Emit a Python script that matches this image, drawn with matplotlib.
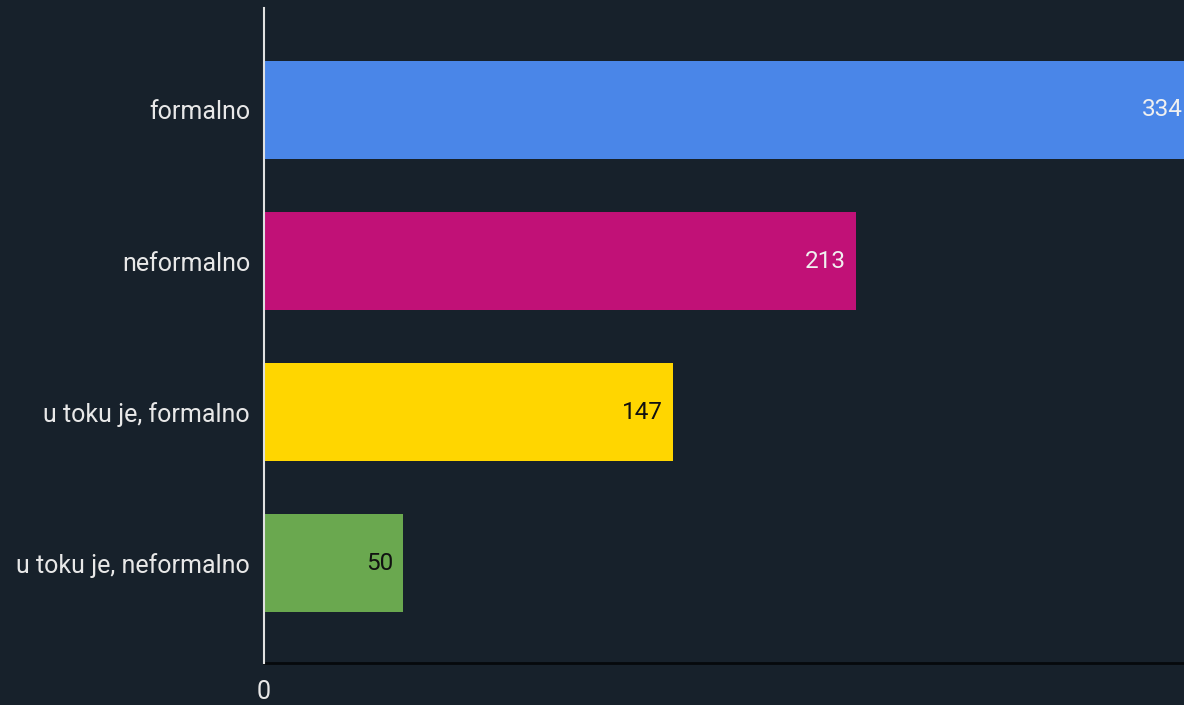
import matplotlib.pyplot as plt

categories = ['formalno', 'neformalno', 'u toku je, formalno', 'u toku je, neformalno']
values = [334, 213, 147, 50]
bar_colors = ['#4a86e8', '#c11177', '#ffd600', '#6aa84f']
value_text_colors = ['#f0f0f0', '#f0f0f0', '#111111', '#111111']

BG = '#17212b'

plt.rcParams['font.family'] = ['Roboto', 'DejaVu Sans']

fig = plt.figure(figsize=(11.84, 7.05), dpi=100, facecolor=BG)
ax = fig.add_axes([264 / 1184, 1 - 663 / 705, (1184 - 264) / 1184, (663 - 8) / 705])
ax.set_facecolor(BG)

y = list(range(len(categories)))
ax.barh(y, values, height=0.65, color=bar_colors, zorder=2)

ax.set_xlim(0, 331)
ax.set_ylim(3.66, -0.675)

for yi, v, tc in zip(y, values, value_text_colors):
    ax.annotate(str(v), xy=(v, yi), xytext=(-7, 0), textcoords='offset points',
                ha='right', va='center', fontsize=17.5, color=tc, zorder=3,
                annotation_clip=False)

ax.set_yticks(y)
ax.set_yticklabels(categories, fontsize=18, color='#e8e8e8')
ax.set_xticks([0])
ax.set_xticklabels(['0'], fontsize=18, color='#e8e8e8')
ax.tick_params(axis='both', length=0)
ax.tick_params(axis='y', pad=10)
ax.tick_params(axis='x', pad=12)

for s in ['top', 'right']:
    ax.spines[s].set_visible(False)
ax.spines['left'].set_color('#e0e0e0')
ax.spines['left'].set_linewidth(1.5)
ax.spines['left'].set_zorder(4)
ax.spines['bottom'].set_color('#06090c')
ax.spines['bottom'].set_linewidth(2)

fig.savefig('out.png', dpi=100, facecolor=BG)
